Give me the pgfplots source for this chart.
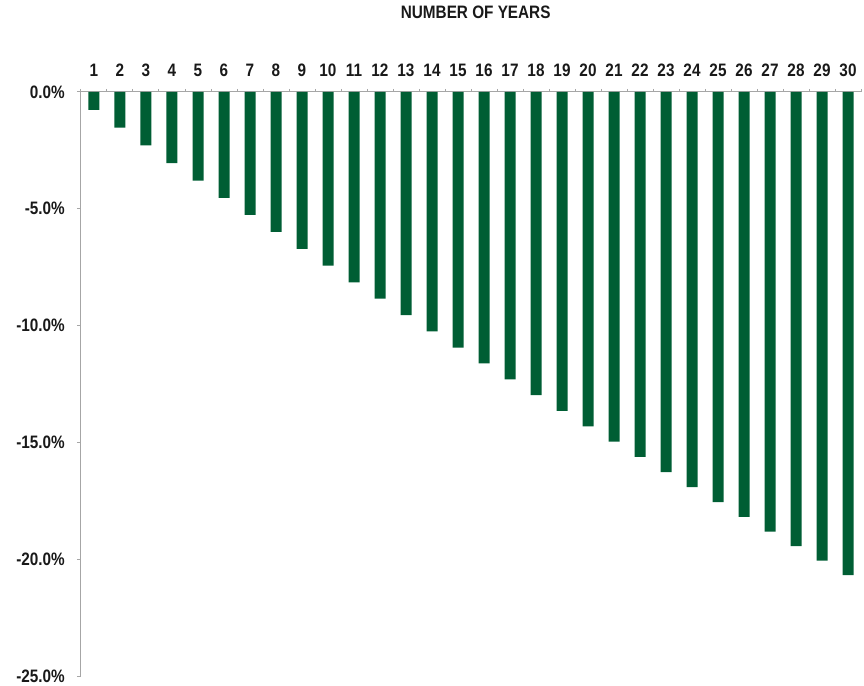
\documentclass[border=0pt]{standalone}
\usepackage{pgfplots}
\pgfplotsset{compat=1.18}
\usepackage{fontspec}
\setmainfont{Liberation Sans}[FakeStretch=0.85]
\definecolor{bargreen}{RGB}{0,94,52}
\definecolor{axgray}{RGB}{166,166,166}
\begin{document}
\fontsize{18}{20}\selectfont
\begin{tikzpicture}
\path[use as bounding box] (-81pt,-9pt) rectangle (783pt,676pt);
\begin{axis}[
  at={(0pt,0pt)}, anchor=south west,
  scale only axis, width=780pt, height=584pt,
  xmin=0.5, xmax=30.5, ymin=-25, ymax=0,
  axis x line*=top, axis y line*=left,
  axis line style={axgray, line width=1pt},
  every tick/.style={axgray, line width=1pt},
  tick align=outside,
  xtick={1,...,30},
  major x tick style={draw=none},
  minor xtick={0.5,1.5,...,30.5},
  minor tick length=3pt,
  major tick length=4pt,
  ytick={-25,-20,-15,-10,-5,0},
  yticklabel={\pgfmathprintnumber[fixed,fixed zerofill,precision=1]{\tick}\%},
  /pgf/number format/assume math mode=true,
  ticklabel style={font=\fontsize{18}{20}\selectfont\bfseries, text=black!90},
  xticklabel style={yshift=5pt},
  yticklabel style={xshift=-6pt},
  title={NUMBER OF YEARS},
  title style={at={(axis description cs:0.506,1)}, anchor=center, yshift=74pt, font=\fontsize{18}{20}\selectfont\bfseries, text=black!90},
  ybar, bar width=11pt,
  clip=false,
]
\addplot[draw=none, fill=bargreen, bar shift=0pt] coordinates {
(1,-0.77) (2,-1.53) (3,-2.29) (4,-3.04) (5,-3.79) (6,-4.53) (7,-5.26) (8,-5.99) (9,-6.72) (10,-7.43)
(11,-8.15) (12,-8.85) (13,-9.55) (14,-10.25) (15,-10.94) (16,-11.62) (17,-12.30) (18,-12.98) (19,-13.65) (20,-14.31)
(21,-14.97) (22,-15.62) (23,-16.27) (24,-16.92) (25,-17.56) (26,-18.19) (27,-18.82) (28,-19.44) (29,-20.06) (30,-20.68)
};
\end{axis}
\end{tikzpicture}
\end{document}
